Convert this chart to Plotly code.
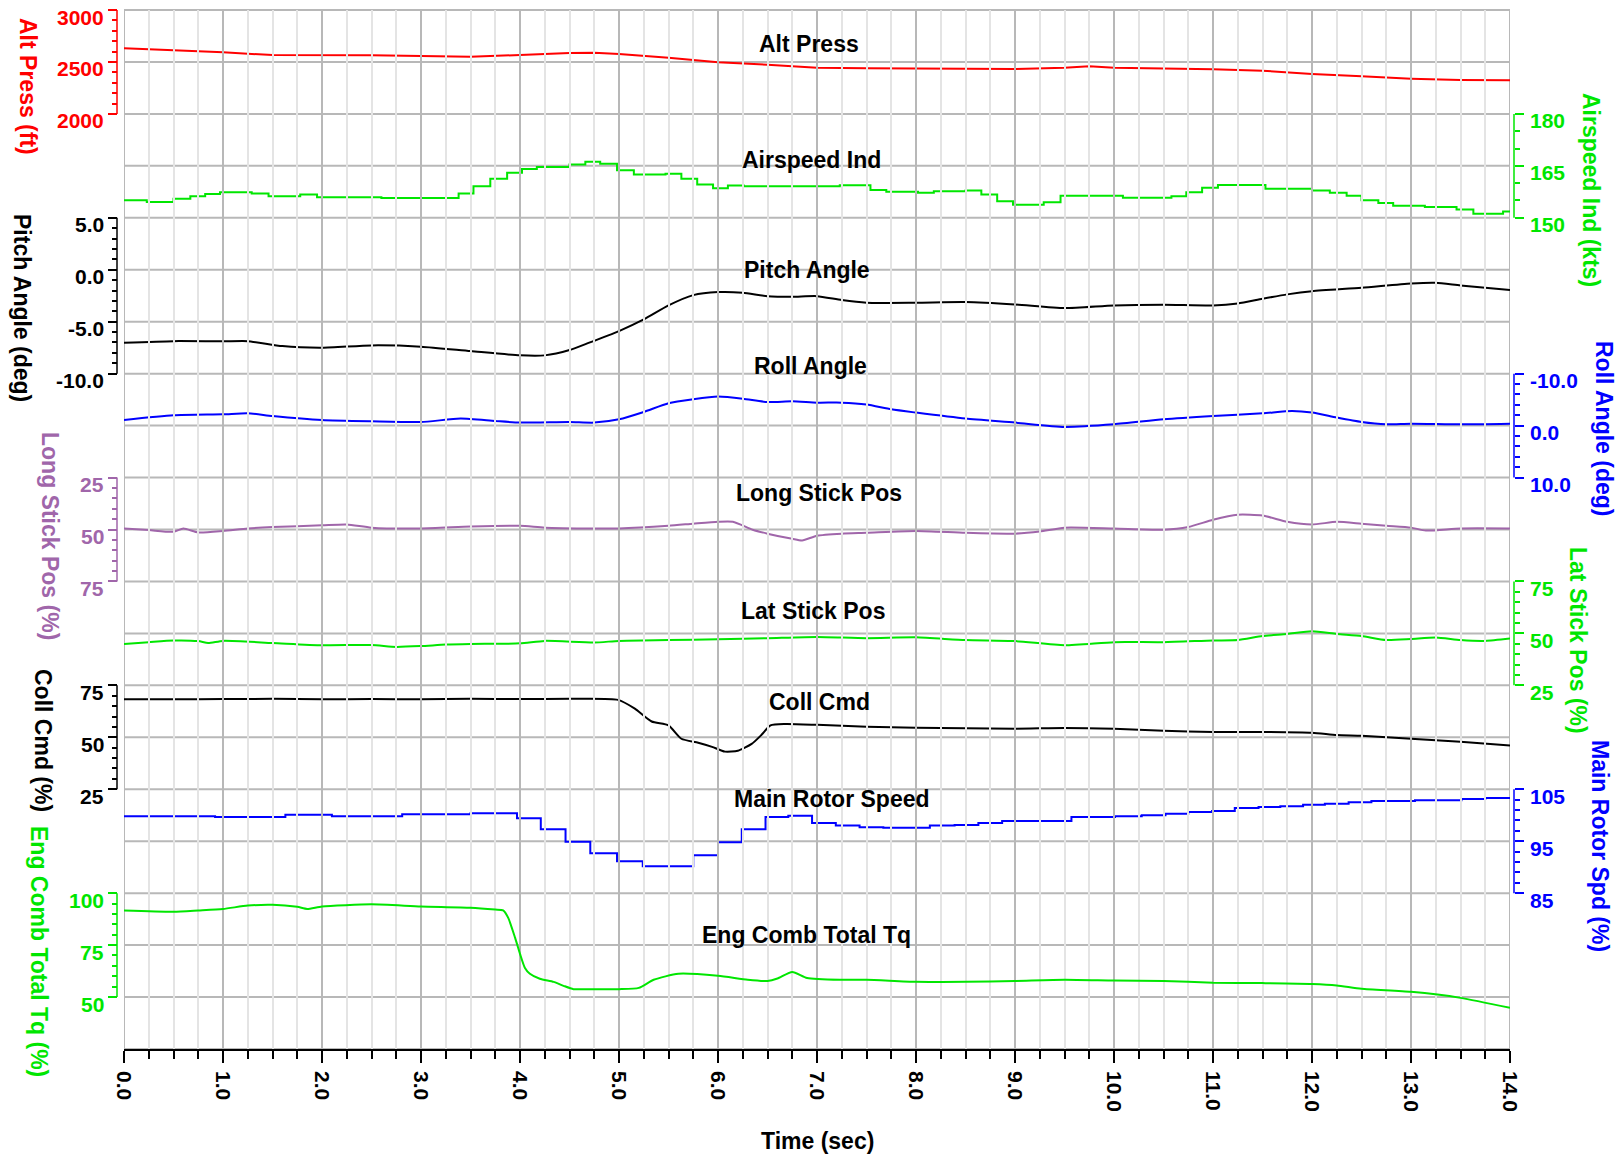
import numpy as np
import plotly.graph_objects as go

W, H = 1623, 1158
ML, MR, MT, MB = 117, 109, 10, 109
FONT = "Liberation Sans, Arial, sans-serif"

# ---------------- data ----------------
alt_t = [0, 0.5, 1.0, 1.5, 2.0, 2.5, 3.0, 3.5, 4.0, 4.5, 4.75, 5.0, 5.5, 6.0, 6.5, 7.0, 7.5,
         8.0, 8.5, 9.0, 9.5, 9.75, 10.0, 10.5, 11.0, 11.5, 12.0, 12.5, 13.0, 13.5, 14.0]
alt_press = [2631, 2615, 2593, 2566, 2567, 2565, 2557, 2551, 2567, 2586, 2588, 2577, 2541, 2496,
             2474, 2445, 2440, 2435, 2434, 2432, 2445, 2458, 2445, 2440, 2429, 2416, 2384, 2362,
             2339, 2326, 2323]

ias_t = [0.0, 0.23, 0.50, 0.67, 0.82, 0.97, 1.29, 1.46, 1.78, 1.95, 2.6, 3.38, 3.53, 3.70, 3.87,
         4.02, 4.17, 4.50, 4.66, 4.81, 4.98, 5.15, 5.47, 5.63, 5.79, 5.95, 6.10, 6.26, 7.23, 7.54,
         7.70, 8.02, 8.18, 8.50, 8.66, 8.82, 8.98, 9.29, 9.46, 10.09, 10.58, 10.73, 10.89, 11.05,
         11.53, 12.00, 12.18, 12.35, 12.50, 12.67, 12.82, 13.14, 13.46, 13.63, 13.93, 14.0]
airspeed = [155.1, 154.6, 155.5, 156.2, 156.9, 157.4, 157.0, 156.2, 156.7, 155.9, 155.7, 157.0,
            159.1, 161.25, 163.0, 164.1, 164.7, 165.4, 166.2, 165.6, 163.7, 162.5, 162.7, 161.3,
            159.6, 158.5, 159.3, 159.1, 159.4, 158.0, 157.5, 157.2, 157.7, 157.9, 156.7, 154.8,
            153.8, 154.5, 156.4, 155.8, 156.2, 157.4, 158.7, 159.5, 158.4, 157.9, 157.2, 156.4,
            155.1, 154.3, 153.5, 153.1, 152.4, 151.2, 151.8, 151.8]

pitch_t = [0, 0.5, 1.0, 1.25, 1.6, 2.0, 2.5, 3.0, 3.5, 4.0, 4.25, 4.5, 4.7, 5.0, 5.25, 5.5, 5.75,
           6.0, 6.25, 6.5, 6.75, 7.0, 7.25, 7.5, 8.0, 8.5, 9.0, 9.5, 10.0, 10.5, 11.0, 11.25,
           11.5, 11.75, 12.0, 12.5, 13.0, 13.25, 13.5, 14.0]
pitch = [-7.02, -6.87, -6.89, -6.87, -7.35, -7.5, -7.28, -7.4, -7.83, -8.24, -8.24, -7.73, -7.02,
         -5.9, -4.78, -3.43, -2.44, -2.15, -2.21, -2.54, -2.6, -2.54, -2.92, -3.17, -3.17, -3.11,
         -3.34, -3.69, -3.43, -3.36, -3.43, -3.24, -2.79, -2.37, -2.06, -1.73, -1.32, -1.25,
         -1.51, -1.96]

roll_t = [0, 0.5, 1.0, 1.25, 1.5, 2.0, 2.5, 3.0, 3.4, 3.75, 4.0, 4.5, 4.75, 5.0, 5.25, 5.5, 5.75,
          6.0, 6.25, 6.5, 6.75, 7.0, 7.25, 7.5, 7.75, 8.0, 8.5, 9.0, 9.5, 10.0, 10.5, 11.0, 11.5,
          11.8, 12.0, 12.25, 12.5, 12.75, 13.0, 13.5, 14.0]
roll = [-1.08, -1.98, -2.17, -2.37, -1.85, -1.08, -0.83, -0.69, -1.35, -0.88, -0.58, -0.69,
        -0.58, -1.21, -2.62, -4.29, -5.06, -5.58, -5.19, -4.54, -4.67, -4.42, -4.42, -4.04,
        -3.13, -2.5, -1.35, -0.58, 0.26, -0.25, -1.21, -1.85, -2.37, -2.81, -2.5, -1.54, -0.69,
        -0.25, -0.38, -0.25, -0.38]

long_t = [0, 0.25, 0.5, 0.6, 0.75, 1.0, 1.25, 1.5, 2.0, 2.25, 2.5, 3.0, 3.5, 4.0, 4.25, 4.75,
          5.0, 5.5, 5.75, 6.0, 6.15, 6.35, 6.5, 6.75, 6.85, 7.0, 7.25, 7.5, 8.0, 8.5, 9.0, 9.25,
          9.5, 10.0, 10.5, 10.75, 11.0, 11.25, 11.5, 11.75, 12.0, 12.25, 12.5, 12.75, 13.0,
          13.15, 13.5, 14.0]
long_stick = [49.5, 50.3, 51.1, 49.5, 51.4, 50.7, 49.5, 48.8, 48.0, 47.6, 49.1, 49.5, 48.6, 48.2,
              49.1, 49.5, 49.5, 48.2, 47.2, 46.3, 46.3, 50.1, 52.0, 54.5, 55.3, 53.0, 52.0, 51.6,
              50.7, 51.6, 52.0, 51.0, 49.1, 49.5, 50.1, 48.8, 45.3, 42.9, 43.3, 46.3, 47.6, 46.3,
              47.2, 48.2, 49.1, 50.5, 49.5, 49.5]

lat_t = [0, 0.25, 0.5, 0.75, 0.85, 1.0, 1.5, 2.0, 2.5, 2.75, 3.0, 3.25, 3.5, 4.0, 4.25, 4.75,
         5.0, 5.5, 6.0, 6.5, 7.0, 7.5, 8.0, 8.5, 9.0, 9.5, 10.0, 10.5, 11.0, 11.25, 11.5, 11.75,
         12.0, 12.25, 12.5, 12.75, 13.0, 13.25, 13.5, 13.75, 14.0]
lat_stick = [44.9, 45.8, 46.6, 46.3, 45.4, 46.4, 45.4, 44.3, 44.4, 43.5, 43.9, 44.6, 44.9, 45.2,
             46.4, 45.6, 46.4, 46.8, 47.2, 47.7, 48.3, 47.7, 48.1, 46.8, 46.3, 44.3, 45.8, 45.8,
             46.6, 46.8, 48.7, 49.7, 51.0, 49.7, 48.7, 46.8, 47.3, 48.0, 46.8, 46.4, 47.5]

coll_t = [0, 0.5, 1.0, 1.5, 2.0, 2.5, 3.0, 3.5, 4.0, 4.5, 4.99, 5.16, 5.33, 5.5, 5.63, 5.8,
          5.94, 6.07, 6.2, 6.34, 6.44, 6.53, 6.68, 7.0, 7.5, 8.0, 8.5, 9.0, 9.5, 10.0, 10.5,
          11.0, 11.5, 12.0, 12.25, 12.5, 13.0, 13.5, 14.0]
coll_cmd = [68.3, 68.3, 68.4, 68.5, 68.3, 68.4, 68.3, 68.5, 68.4, 68.5, 68.0, 63.8, 57.6, 55.7,
            49.3, 47.4, 45.4, 43.1, 43.5, 46.8, 51.2, 55.7, 56.4, 56.0, 55.1, 54.6, 54.4, 54.1,
            54.5, 54.1, 53.1, 52.6, 52.6, 52.2, 51.1, 50.7, 49.3, 47.8, 46.0]

mr_t = [0.0, 0.92, 1.63, 2.10, 2.81, 3.50, 3.97, 4.21, 4.46, 4.71, 4.98, 5.24, 5.75, 6.00, 6.24,
        6.48, 6.71, 6.95, 7.19, 7.43, 7.67, 8.14, 8.39, 8.63, 8.87, 9.57, 10.01, 10.28, 10.52,
        10.75, 10.99, 11.22, 11.46, 11.68, 11.91, 12.13, 12.37, 12.60, 13.04, 13.51, 13.75, 14.0]
main_rotor = [99.8, 99.65, 100.1, 99.8, 100.2, 100.4, 99.4, 97.3, 94.9, 92.7, 91.15, 90.2, 92.3,
              94.8, 97.3, 99.65, 99.9, 98.5, 98.0, 97.7, 97.6, 98.0, 98.1, 98.5, 98.9, 99.65,
              99.8, 100.0, 100.3, 100.6, 100.8, 101.4, 101.6, 101.75, 102.0, 102.2, 102.5,
              102.75, 102.9, 103.1, 103.3, 103.3]

tq_t = [0, 0.5, 0.75, 1.0, 1.25, 1.5, 1.75, 1.85, 2.0, 2.5, 3.0, 3.5, 3.75, 3.83, 3.88, 3.95,
        4.0, 4.05, 4.1, 4.2, 4.34, 4.44, 4.54, 4.7, 5.0, 5.2, 5.35, 5.6, 6.0, 6.3, 6.5, 6.6,
        6.75, 6.9, 7.25, 7.5, 8.0, 8.5, 9.0, 9.5, 10.0, 10.5, 11.0, 11.5, 12.0, 12.25, 12.5,
        13.0, 13.5, 14.0]
eng_tq = [91.7, 91.1, 91.7, 92.4, 94.0, 94.4, 93.4, 92.4, 93.6, 94.6, 93.6, 93.0, 92.1, 91.7,
          88.2, 78.6, 70.8, 64.0, 61.2, 58.8, 57.3, 55.4, 53.8, 53.8, 53.8, 54.4, 58.3, 61.2,
          60.2, 58.3, 57.7, 58.9, 62.1, 59.2, 58.3, 58.3, 57.3, 57.3, 57.7, 58.3, 57.9, 57.7,
          56.9, 56.7, 56.3, 55.6, 54.0, 52.5, 49.6, 44.8]

time_ticks = [0, 1, 2, 3, 4, 5, 6, 7, 8, 9, 10, 11, 12, 13, 14]

RED, GREEN, BLACK, BLUE, PURPLE = "#ff0000", "#00e600", "#000000", "#0000ff", "#a066aa"
GRID, MINORGRID = "#b8b8b8", "#e4e4e4"

# name, x, y, shape, color, side, k_top, v_top, k_bot, v_bot, major, minor, fmt, axis title, title pos, label pos
series = [
    ("Alt Press", alt_t, alt_press, "linear", RED, "left", 0, 3000, 2, 2000, 500, 100, "{:.0f}",
     "Alt Press (ft)", (28, 87), (809, 44)),
    ("Airspeed Ind", ias_t, airspeed, "hv", GREEN, "right", 2, 180, 4, 150, 15, 5, "{:.0f}",
     "Airspeed Ind (kts)", (1591, 190), (811, 160)),
    ("Pitch Angle", pitch_t, pitch, "spline", BLACK, "left", 4, 5, 7, -10, 5, 1, "{:.1f}",
     "Pitch Angle (deg)", (22, 308), (807, 270)),
    ("Roll Angle", roll_t, roll, "spline", BLUE, "right", 7, -10, 9, 10, 10, 2, "{:.1f}",
     "Roll Angle (deg)", (1604, 428), (810, 366)),
    ("Long Stick Pos", long_t, long_stick, "spline", PURPLE, "left", 9, 25, 11, 75, 25, 5, "{:.0f}",
     "Long Stick Pos (%)", (50, 536), (819, 493)),
    ("Lat Stick Pos", lat_t, lat_stick, "spline", GREEN, "right", 11, 75, 13, 25, 25, 5, "{:.0f}",
     "Lat Stick Pos (%)", (1578, 640), (813, 611)),
    ("Coll Cmd", coll_t, coll_cmd, "spline", BLACK, "left", 13, 75, 15, 25, 25, 5, "{:.0f}",
     "Coll Cmd (%)", (43, 740), (819, 702)),
    ("Main Rotor Speed", mr_t, main_rotor, "hv", BLUE, "right", 15, 105, 17, 85, 10, 2, "{:.0f}",
     "Main Rotor Spd (%)", (1600, 846), (832, 799)),
    ("Eng Comb Total Tq", tq_t, eng_tq, "spline", GREEN, "left", 17, 100, 19, 50, 25, 5, "{:.0f}",
     "Eng Comb Total Tq (%)", (39, 951), (806, 935)),
]


def px(x):
    return (x - ML) / (W - ML - MR)


def py(y):
    return (H - MB - y) / (H - MT - MB)


fig = go.Figure()
shapes, annotations = [], []
layout = {}

for i, (name, xs, ys, shape, color, side, kt, vt, kb, vb, major, minor, fmt,
        atitle, apos, lpos) in enumerate(series):
    n = i + 2
    p_t, p_b = 1 - kt / 20, 1 - kb / 20
    s = (vt - vb) / (p_t - p_b)
    r0, r1 = vb - s * p_b, vb + s * (1 - p_b)
    eps = (r1 - r0) * 1e-5
    lo, hi = min(vt, vb), max(vt, vb)
    majors = [float(v) for v in np.arange(lo, hi + major / 2, major)]
    minors = [float(v) for v in np.arange(lo, hi + minor / 2, minor)
              if min(abs(v - m) for m in majors) > 1e-6]
    pos = 0 if side == "left" else 1
    layout[f"yaxis{n}"] = dict(
        overlaying="y", anchor="free", position=pos, side=side,
        range=[r0 - eps, r1 + eps], autorange=False, showgrid=False, zeroline=False,
        showline=False, showticklabels=False,
        tickmode="array", tickvals=majors,
        ticks="outside", ticklen=9, tickwidth=1.5, tickcolor=color,
        minor=dict(tickmode="array", tickvals=minors, ticks="outside", ticklen=5,
                   tickwidth=1.5, tickcolor=color, showgrid=False),
        automargin=False, fixedrange=True,
    )
    # tick labels: the reference sets each label just below its tick
    for v in majors:
        annotations.append(dict(
            text=fmt.format(v), xref="paper", yref=f"y{n}", y=v, yshift=-7,
            x=px(106) if side == "left" else px(1528),
            xanchor="right" if side == "left" else "left", yanchor="middle",
            showarrow=False, font=dict(family=FONT, size=21, color=color, weight="bold")))
    line = dict(color=color, width=2, shape=shape)
    if shape == "spline":
        line["smoothing"] = 0.6
    fig.add_trace(go.Scatter(x=xs, y=ys, mode="lines", name=name, yaxis=f"y{n}",
                             line=line, showlegend=False, hoverinfo="skip"))
    shapes.append(dict(type="line", xref="paper", yref="paper", x0=pos, x1=pos,
                       y0=p_b, y1=p_t, line=dict(color=color, width=1.5), layer="above"))
    annotations.append(dict(text=atitle, xref="paper", yref="paper", x=px(apos[0]), y=py(apos[1]),
                            xanchor="center", yanchor="middle", textangle=90, showarrow=False,
                            font=dict(family=FONT, size=23, color=color, weight="bold")))
    annotations.append(dict(text=name, xref="paper", yref="paper", x=px(lpos[0]), y=py(lpos[1]),
                            xanchor="center", yanchor="middle", showarrow=False,
                            font=dict(family=FONT, size=23, color="#000000", weight="bold")))

annotations.append(dict(text="Time (sec)", xref="paper", yref="paper", x=px(818), y=py(1141),
                        xanchor="center", yanchor="middle", showarrow=False,
                        font=dict(family=FONT, size=23, color="#000000", weight="bold")))

# horizontal grid lines (one per grid division) and the plot frame
for k in range(21):
    shapes.append(dict(type="line", xref="x", yref="paper", x0=0, x1=14, y0=1 - k / 20,
                       y1=1 - k / 20, line=dict(color=GRID, width=2), layer="below"))
shapes.append(dict(type="rect", xref="x", yref="paper", x0=0, x1=14, y0=0, y1=1,
                   line=dict(color=GRID, width=2), fillcolor="rgba(0,0,0,0)", layer="below"))

x0d = (124 - ML) / (W - ML - MR)
x1d = (1510 - ML) / (W - ML - MR)

fig.update_layout(
    template="none",
    width=W, height=H,
    margin=dict(l=ML, r=MR, t=MT, b=MB, pad=0),
    paper_bgcolor="white", plot_bgcolor="rgba(0,0,0,0)",
    showlegend=False,
    xaxis=dict(domain=[x0d, x1d], anchor="y", range=[0, 14], autorange=False,
               tickmode="array", tickvals=time_ticks, ticktext=[f"{v:.1f}" for v in time_ticks],
               tickangle=90, ticks="outside", ticklen=12, tickwidth=1.5, tickcolor="#000000",
               ticklabelstandoff=4,
               tickfont=dict(family=FONT, size=21, color="#000000", weight="bold"),
               showline=True, linecolor="#000000", linewidth=1.5,
               showgrid=True, gridcolor=GRID, gridwidth=2, zeroline=False,
               minor=dict(dtick=0.25, tick0=0, ticks="outside", ticklen=8, tickwidth=1.5,
                          tickcolor="#000000", showgrid=True, gridcolor=MINORGRID, gridwidth=2),
               automargin=False, fixedrange=True),
    yaxis=dict(domain=[0, 1], range=[0, 20], autorange=False, showticklabels=False, ticks="",
               showgrid=False, zeroline=False, showline=False, automargin=False,
               fixedrange=True),
    shapes=shapes,
    annotations=annotations,
    **layout,
)

fig.write_html("out.html", config={"displayModeBar": False})
